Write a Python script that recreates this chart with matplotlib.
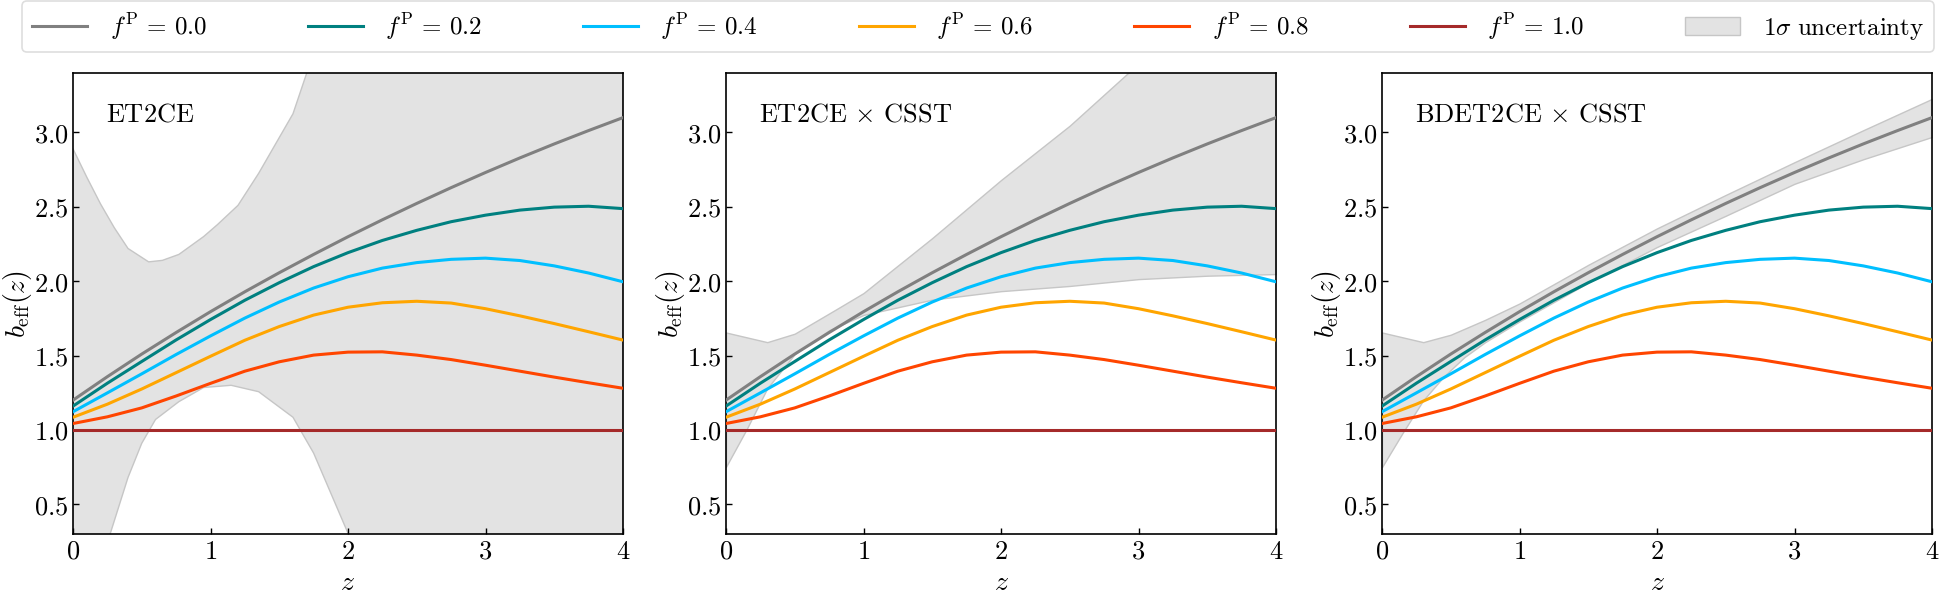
import numpy as np
import matplotlib
matplotlib.use("Agg")
import matplotlib.pyplot as plt
from matplotlib.ticker import FuncFormatter, MultipleLocator

plt.rcParams['mathtext.fontset'] = 'cm'
plt.rcParams['font.family'] = ['DejaVu Serif']

# ---------------- data ----------------
z = [0.0, 0.25, 0.5, 0.75, 1.0, 1.25, 1.5, 1.75, 2.0,
     2.25, 2.5, 2.75, 3.0, 3.25, 3.5, 3.75, 4.0]
b_f00 = [1.200, 1.358, 1.510, 1.655, 1.795, 1.929, 2.057, 2.180, 2.299,
         2.413, 2.523, 2.629, 2.731, 2.829, 2.923, 3.013, 3.100]
b_f02 = [1.160, 1.314, 1.460, 1.605, 1.742, 1.872, 1.990, 2.098, 2.192,
         2.274, 2.342, 2.400, 2.444, 2.478, 2.498, 2.504, 2.488]
b_f04 = [1.122, 1.249, 1.377, 1.507, 1.632, 1.752, 1.860, 1.954, 2.030,
         2.088, 2.125, 2.147, 2.155, 2.139, 2.103, 2.055, 1.996]
b_f06 = [1.085, 1.173, 1.275, 1.385, 1.495, 1.603, 1.695, 1.772, 1.825,
         1.855, 1.865, 1.853, 1.815, 1.767, 1.715, 1.660, 1.604]
b_f08 = [1.043, 1.088, 1.148, 1.228, 1.313, 1.395, 1.458, 1.503, 1.523,
         1.525, 1.503, 1.473, 1.435, 1.395, 1.355, 1.317, 1.280]
b_f10 = [1.0] * 17

fP_values = ["0.0", "0.2", "0.4", "0.6", "0.8", "1.0"]
series = [b_f00, b_f02, b_f04, b_f06, b_f08, b_f10]
colors = ["gray", "teal", "deepskyblue", "orange", "orangered", "brown"]

panel_titles = [r"$\mathrm{ET2CE}$", r"$\mathrm{ET2CE}\,\times\,\mathrm{CSST}$",
                r"$\mathrm{BDET2CE}\,\times\,\mathrm{CSST}$"]

# 1-sigma bands (upper / lower), per panel
band1_up_z = [0, 0.1, 0.2, 0.3, 0.4, 0.55, 0.65, 0.77, 0.95, 1.05, 1.2, 1.35, 1.6, 1.7, 2.0, 4.0]
band1_up = [2.89, 2.70, 2.52, 2.36, 2.22, 2.13, 2.14, 2.18, 2.30, 2.38, 2.51, 2.725, 3.126, 3.40, 4.0, 6.0]
band1_lo_z = [0, 0.27, 0.4, 0.5, 0.6, 0.77, 0.95, 1.15, 1.35, 1.6, 1.75, 2.0, 4.0]
band1_lo = [-0.2, 0.30, 0.68, 0.91, 1.07, 1.19, 1.285, 1.30, 1.257, 1.085, 0.844, 0.305, -2.0]

band2_up_z = [0, 0.3, 0.5, 0.8, 1.0, 1.5, 2.0, 2.5, 2.9, 4.0]
band2_up = [1.655, 1.59, 1.647, 1.81, 1.92, 2.29, 2.68, 3.046, 3.38, 4.3]
band2_lo_z = [0, 0.15, 0.3, 0.5, 0.75, 1.0, 1.5, 2.0, 2.5, 3.0, 3.5, 4.0]
band2_lo = [0.752, 1.005, 1.28, 1.51, 1.67, 1.773, 1.876, 1.933, 1.968, 2.014, 2.037, 2.048]

band3_up_z = [0, 0.3, 0.5, 0.75, 1.0, 1.5, 2.0, 2.5, 3.0, 3.5, 4.0]
band3_up = [1.655, 1.59, 1.64, 1.74, 1.85, 2.11, 2.355, 2.58, 2.80, 3.015, 3.226]
band3_lo_z = [0, 0.15, 0.3, 0.45, 0.6, 0.75, 1.0, 1.5, 2.0, 2.5, 3.0, 3.5, 4.0]
band3_lo = [0.75, 0.98, 1.20, 1.36, 1.49, 1.59, 1.73, 1.99, 2.23, 2.44, 2.655, 2.82, 2.97]

bands = [(band1_up_z, band1_up, band1_lo_z, band1_lo),
         (band2_up_z, band2_up, band2_lo_z, band2_lo),
         (band3_up_z, band3_up, band3_lo_z, band3_lo)]

# ---------------- figure ----------------
fig = plt.figure(figsize=(19.42, 5.96), dpi=100)
lefts = [73, 726, 1382]
W, H = 550, 461
bottom_px = 534
axes = []
for l in lefts:
    ax = fig.add_axes([l / 1942, 1 - bottom_px / 596, W / 1942, H / 596])
    axes.append(ax)

yfmt = FuncFormatter(lambda v, p: r"$%.1f$" % v)
xfmt = FuncFormatter(lambda v, p: r"$%d$" % int(round(v)))

band_handle = None
line_handles = []
for i, ax in enumerate(axes):
    uz, uv, lz, lv = bands[i]
    zz = np.union1d(np.array(uz, float), np.array(lz, float))
    up = np.interp(zz, uz, uv)
    lo = np.interp(zz, lz, lv)
    bh = ax.fill_between(zz, lo, up, facecolor='#e3e3e3', edgecolor='#c6c6c6',
                         linewidth=1.0, zorder=1)
    hs = []
    for s, c, f in zip(series, colors, fP_values):
        h, = ax.plot(z, s, color=c, lw=2.2, zorder=3, solid_joinstyle='round',
                     label=r"$f^{\rm P}\,=\,%s$" % f)
        hs.append(h)
    if i == 0:
        line_handles = hs
        band_handle = bh
    ax.set_xlim(0, 4)
    ax.set_ylim(0.3, 3.4)
    ax.xaxis.set_major_locator(MultipleLocator(1))
    ax.yaxis.set_major_locator(MultipleLocator(0.5))
    ax.xaxis.set_major_formatter(xfmt)
    ax.yaxis.set_major_formatter(yfmt)
    ax.tick_params(direction='in', length=4, width=1, labelsize=19,
                   top=False, right=False)
    for sp in ax.spines.values():
        sp.set_linewidth(1.2)
    ax.set_xlabel(r"$z$", fontsize=20, labelpad=4)
    ax.set_ylabel(r"$b_{\rm eff}(z)$", fontsize=20, labelpad=0)
    ax.text(0.06, 0.91, panel_titles[i], transform=ax.transAxes,
            fontsize=19, ha='left', va='center')

handles = line_handles + [band_handle]
labels = [h.get_label() for h in line_handles] + [r"$1\sigma\ \mathrm{uncertainty}$"]
leg = fig.legend(handles, labels, loc='lower left', ncol=7, mode='expand',
                 bbox_to_anchor=(22 / 1942, 1 - 52 / 596, 1912 / 1942, 49 / 596),
                 fontsize=18, frameon=True, fancybox=True, borderaxespad=0.0,
                 handlelength=2.2, handletextpad=0.9)
leg.get_frame().set_edgecolor('#d6d6d6')
leg.get_frame().set_linewidth(1.2)

fig.savefig("out.png", dpi=100)
